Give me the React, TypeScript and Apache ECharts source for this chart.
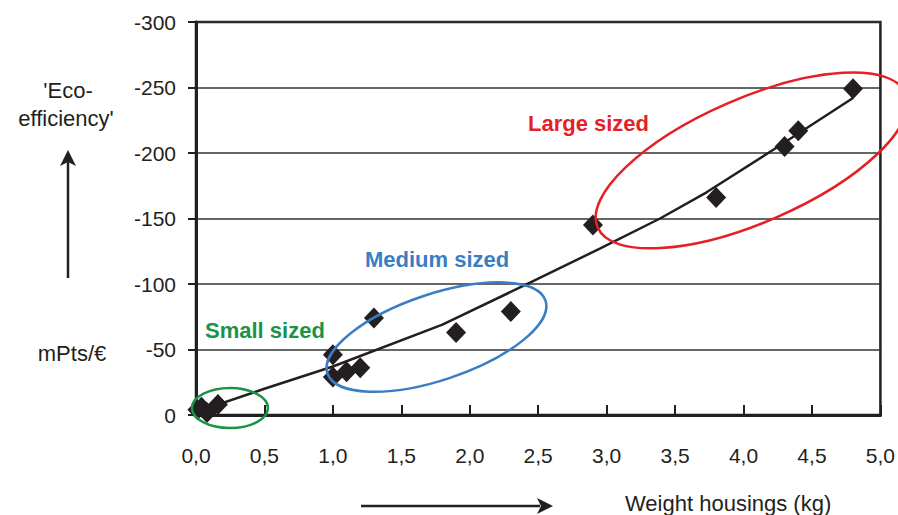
import React, { useEffect, useRef } from "react";
import * as echarts from "echarts";

const weights = [0.01, 0.04, 0.08, 0.16, 1.0, 1.0, 1.1, 1.2, 1.3, 1.9, 2.3, 2.9, 3.8, 4.3, 4.4, 4.8];
const ecoEff = [-4, -6, -2, -8, -46, -29, -33, -36, -74, -63, -79, -145, -166, -205, -217, -249];

const trendX = [0.02, 0.5, 1.0, 1.8, 2.44, 2.95, 3.39, 3.73, 4.24, 4.8];
const trendY = [-3, -20, -37, -69, -101, -127, -150, -170, -204, -242];

// group annotations: centre in data units
const groups = [
  { name: "Small sized", cx: 0.248, cy: -5.3, rx: 38, ry: 20, rot: 0, color: "#1b9347" },
  { name: "Medium sized", cx: 1.757, cy: -59.5, rx: 115, ry: 43, rot: 18.5, color: "#3a7dc3" },
  { name: "Large sized", cx: 4.06, cy: -194.3, rx: 168, ry: 62, rot: 23.5, color: "#e51f26" },
];
const groupLabelPos = [
  [205, 330],
  [365, 259],
  [528, 123],
];

const FONT = "Liberation Sans, Arial, sans-serif";

export default function App() {
  const ref = useRef<HTMLDivElement>(null);
  useEffect(() => {
    if (!ref.current) return;
    const chart = echarts.init(ref.current, null, { renderer: "svg" });
    const option: any = {
      animation: false,
      backgroundColor: "#ffffff",
      grid: {
        left: 196,
        right: 16,
        top: 22,
        bottom: 100,
        show: true,
        borderColor: "#231f20",
        borderWidth: 2.5,
        backgroundColor: "transparent",
      },
      xAxis: {
        type: "value",
        min: 0,
        max: 5,
        interval: 0.5,
        axisLine: { show: true, onZero: false, lineStyle: { color: "#231f20", width: 3 } },
        axisTick: { show: true, inside: true, length: 10, lineStyle: { color: "#231f20", width: 2 } },
        axisLabel: {
          margin: 30,
          color: "#231f20",
          fontSize: 21,
          fontFamily: FONT,
          formatter: (v: number) => v.toFixed(1).replace(".", ","),
        },
        splitLine: { show: false },
      },
      yAxis: {
        type: "value",
        min: -300,
        max: 0,
        interval: 50,
        inverse: true,
        axisLine: { show: true, onZero: false, lineStyle: { color: "#231f20", width: 3 } },
        axisTick: { show: true, inside: false, length: 8, lineStyle: { color: "#231f20", width: 2 } },
        axisLabel: { margin: 20, color: "#231f20", fontSize: 21, fontFamily: FONT },
        splitLine: { show: true, lineStyle: { color: "#333333", width: 1.5 } },
      },
      series: [
        {
          type: "line",
          data: trendX.map((x, i) => [x, trendY[i]]),
          showSymbol: false,
          symbol: "none",
          lineStyle: { color: "#231f20", width: 2.5 },
          z: 2,
        },
        {
          type: "scatter",
          data: weights.map((x, i) => [x, ecoEff[i]]),
          symbol: "diamond",
          symbolSize: [20, 21],
          itemStyle: { color: "#231f20", opacity: 1 },
          z: 3,
        },
      ],
    };
    chart.setOption(option);

    const graphics: any[] = [];
    groups.forEach((g, i) => {
      const p = chart.convertToPixel({ xAxisIndex: 0, yAxisIndex: 0 }, [g.cx, g.cy]) as number[];
      graphics.push({
        type: "ellipse",
        x: p[0],
        y: p[1],
        rotation: (g.rot * Math.PI) / 180,
        shape: { cx: 0, cy: 0, rx: g.rx, ry: g.ry },
        style: { fill: "none", stroke: g.color, lineWidth: 2.5 },
        z: 10,
      });
      graphics.push({
        type: "text",
        x: groupLabelPos[i][0],
        y: groupLabelPos[i][1],
        style: {
          text: g.name,
          fill: g.color,
          font: `bold 22px ${FONT}`,
          textVerticalAlign: "middle",
          verticalAlign: "middle",
          textAlign: "left",
        },
        z: 11,
      });
    });
    // y-axis caption
    graphics.push(
      {
        type: "text",
        x: 68,
        y: 90,
        style: { text: "'Eco-", fill: "#231f20", font: `22px ${FONT}`, textAlign: "center", textVerticalAlign: "middle", verticalAlign: "middle" },
      },
      {
        type: "text",
        x: 66,
        y: 118,
        style: { text: "efficiency'", fill: "#231f20", font: `22px ${FONT}`, textAlign: "center", textVerticalAlign: "middle", verticalAlign: "middle" },
      },
      {
        type: "text",
        x: 72,
        y: 353,
        style: { text: "mPts/€", fill: "#231f20", font: `22px ${FONT}`, textAlign: "center", textVerticalAlign: "middle", verticalAlign: "middle" },
      },
      {
        type: "line",
        shape: { x1: 68, y1: 278, x2: 68, y2: 162 },
        style: { stroke: "#231f20", lineWidth: 2.5 },
      },
      {
        type: "polygon",
        shape: { points: [[68, 150], [60, 166], [68, 162], [76, 166]] },
        style: { fill: "#231f20" },
      },
      {
        type: "line",
        shape: { x1: 361, y1: 506, x2: 540, y2: 506 },
        style: { stroke: "#231f20", lineWidth: 2.5 },
      },
      {
        type: "polygon",
        shape: { points: [[553, 506], [537, 498], [541, 506], [537, 514]] },
        style: { fill: "#231f20" },
      },
      {
        type: "text",
        x: 625,
        y: 503,
        style: { text: "Weight housings (kg)", fill: "#231f20", font: `22px ${FONT}`, textAlign: "left", textVerticalAlign: "middle", verticalAlign: "middle" },
      }
    );
    chart.setOption({ graphic: graphics });

    return () => chart.dispose();
  }, []);
  return (
    <div
      ref={ref}
      style={{ position: "absolute", left: 0, top: 0, width: 898, height: 515, background: "#fff" }}
    />
  );
}
